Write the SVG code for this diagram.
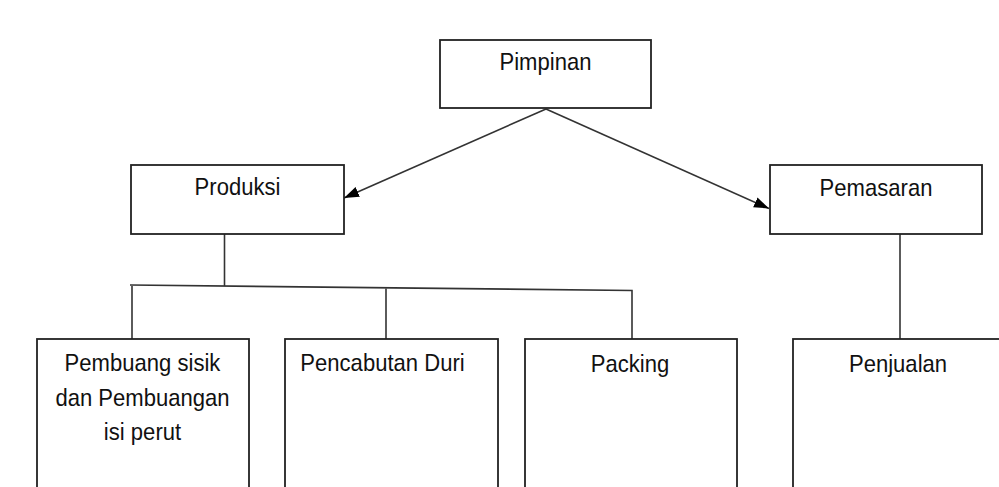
<svg xmlns="http://www.w3.org/2000/svg" width="999" height="487" viewBox="0 0 999 487">
<style>
.box{fill:#fff;stroke:#222;stroke-width:1.8}
.lbl{font-family:"Liberation Sans",Arial,sans-serif;font-size:24px;fill:#111;text-anchor:middle}
.ln{fill:none;stroke:#333;stroke-width:1.6}
</style>
<defs>
<marker id="ah" viewBox="0 0 14 10" refX="14" refY="5" markerWidth="15" markerHeight="11" markerUnits="userSpaceOnUse" orient="auto">
<path d="M0,0 L14,5 L0,10 Z" fill="#000"/>
</marker>
</defs>
<rect width="999" height="487" fill="#fff"/>
<g id="connectors">
<line class="ln" x1="546" y1="109" x2="344" y2="198" marker-end="url(#ah)"/>
<line class="ln" x1="546" y1="109" x2="769" y2="208.5" marker-end="url(#ah)"/>
<line class="ln" x1="224.5" y1="234" x2="224.5" y2="286"/>
<polyline class="ln" points="130,285 632,290.5 632,339"/>
<line class="ln" x1="132" y1="286" x2="132" y2="339"/>
<line class="ln" x1="386" y1="288.5" x2="386" y2="339"/>
<line class="ln" x1="900" y1="234" x2="900" y2="339"/>
</g>
<g id="pimpinan">
<rect class="box" x="440" y="40" width="211" height="68"/>
<text class="lbl" transform="translate(545.5,70) scale(0.92,1)">Pimpinan</text>
</g>
<g id="produksi">
<rect class="box" x="131" y="165" width="213" height="69"/>
<text class="lbl" transform="translate(237.5,195) scale(0.92,1)">Produksi</text>
</g>
<g id="pemasaran">
<rect class="box" x="770" y="165" width="212" height="69"/>
<text class="lbl" transform="translate(876,195.5) scale(0.92,1)">Pemasaran</text>
</g>
<g id="pembuang">
<rect class="box" x="37" y="339" width="212" height="160"/>
<text class="lbl" transform="translate(142.5,371) scale(0.92,1)">Pembuang sisik</text>
<text class="lbl" transform="translate(142.5,405.5) scale(0.92,1)">dan Pembuangan</text>
<text class="lbl" transform="translate(142.5,440) scale(0.92,1)">isi perut</text>
</g>
<g id="pencabutan">
<rect class="box" x="285" y="339" width="213" height="160"/>
<text class="lbl" transform="translate(382.5,371) scale(0.92,1)">Pencabutan Duri</text>
</g>
<g id="packing">
<rect class="box" x="525" y="339" width="212" height="160"/>
<text class="lbl" transform="translate(630,372) scale(0.92,1)">Packing</text>
</g>
<g id="penjualan">
<rect class="box" x="793" y="339" width="212" height="160"/>
<text class="lbl" transform="translate(898,372) scale(0.92,1)">Penjualan</text>
</g>
</svg>
